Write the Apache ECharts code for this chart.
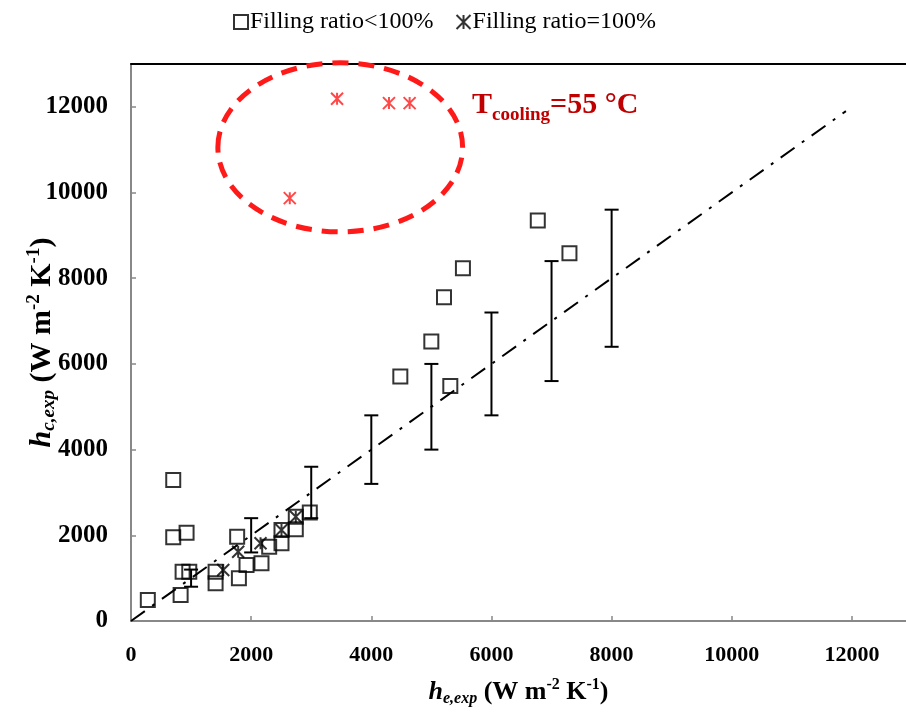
<!DOCTYPE html>
<html>
<head>
<meta charset="utf-8">
<script src="https://cdn.jsdelivr.net/npm/echarts@6/dist/echarts.min.js"></script>
<style>html,body{margin:0;padding:0;background:#fff}#c{width:906px;height:715px}</style>
</head>
<body>
<div id="c"></div>
<script>
// Filling ratio < 100% (hollow squares)
const squareData = [
  [280, 490], [703, 3290], [703, 1954], [925, 2062], [859, 1151], [970, 1151],
  [826, 607], [1408, 1151], [1408, 880], [1767, 1968], [1796, 997], [1923, 1307],
  [2172, 1347], [2300, 1735], [2505, 1813], [2505, 2125], [2743, 2141], [2743, 2435],
  [2976, 2530], [4483, 5705], [4999, 6522], [5315, 5487], [5210, 7558], [5525, 8235],
  [6771, 9347], [7298, 8585]
];
// Filling ratio = 100% (star / x markers)
const fullData = [
  [1535, 1190], [1784, 1618], [2156, 1813], [2505, 2125], [2743, 2435]
];
// T_cooling = 55 °C points (red)
const coolData = [
  [3430, 12188], [4294, 12087], [4638, 12087], [2643, 9869]
];
// Error bars on the y = x line (±20%)
const errX = [1000, 2000, 3000, 4000, 5000, 6000, 7000, 8000];
const errLow = [800, 1600, 2400, 3200, 4000, 4800, 5600, 6400];
const errHigh = [1200, 2400, 3600, 4800, 6000, 7200, 8400, 9600];
// Reference line y = x
const refLine = [[0, 0], [11900, 11900]];
// Ellipse around the red points: [cx, cy, rx, ry]
const ellipseData = [[3483, 11055, 2037, 1973]];

const xTicks = [0, 2000, 4000, 6000, 8000, 10000, 12000];
const yTicks = [0, 2000, 4000, 6000, 8000, 10000, 12000];

const FONT = 'Liberation Serif';
const starPath = 'path://M0,0L10,10M10,0L0,10M5,0L5,10';

const chart = echarts.init(document.getElementById('c'));
function nameRich(big, small) {
  return {
    i: { fontFamily: FONT, fontWeight: 'bold', fontStyle: 'italic', fontSize: big, color: '#000', verticalAlign: 'middle' },
    sub: { fontFamily: FONT, fontWeight: 'bold', fontStyle: 'italic', fontSize: small, color: '#000', verticalAlign: 'bottom' },
    n: { fontFamily: FONT, fontWeight: 'bold', fontSize: big, color: '#000', verticalAlign: 'middle' },
    sup: { fontFamily: FONT, fontWeight: 'bold', fontSize: small, color: '#000', verticalAlign: 'top' }
  };
}

chart.setOption({
  animation: false,
  backgroundColor: '#fff',
  legend: {
    top: 5,
    left: 228,
    data: ['Filling ratio<100%', 'Filling ratio=100%'],
    itemWidth: 14,
    itemHeight: 14,
    itemGap: 22,
    textStyle: { fontFamily: FONT, fontSize: 24, color: '#000', padding: [0, 0, 0, -3] }
  },
  grid: { left: 131, right: 0, top: 64, bottom: 94 },
  xAxis: [{
    type: 'value', min: 0, max: 12900, interval: 2000,
    name: '{i|h}{sub|e,exp}{n| (W m}{sup|-2}{n| K}{sup|-1}{n|)}',
    nameLocation: 'middle', nameGap: 56, nameMoveOverlap: false,
    nameTextStyle: { rich: nameRich(26, 16), lineHeight: 30 },
    axisLine: { lineStyle: { color: '#888', width: 2 } },
    axisTick: { inside: true, length: 5, lineStyle: { color: '#888', width: 1.5 } },
    axisLabel: {
      showMaxLabel: false, margin: 23,
      fontFamily: FONT, fontWeight: 'bold', fontSize: 22, color: '#000',
      formatter: v => xTicks.includes(v) ? String(v) : ''
    },
    splitLine: { show: false }
  }, {
    type: 'value', min: 0, max: 12900, position: 'top',
    axisLine: { show: true, onZero: false, lineStyle: { color: '#000', width: 2 } },
    axisTick: { show: false }, axisLabel: { show: false }, splitLine: { show: false }
  }],
  yAxis: {
    type: 'value', min: 0, max: 13000, interval: 2000,
    name: '{i|h}{sub|c,exp}{n| (W m}{sup|-2}{n| K}{sup|-1}{n|)}',
    nameLocation: 'middle', nameGap: 72, nameRotate: 90, nameMoveOverlap: false,
    nameTextStyle: { rich: nameRich(30, 19), lineHeight: 34 },
    axisLine: { show: true, lineStyle: { color: '#888', width: 2 } },
    axisTick: { show: true, inside: true, length: 5, lineStyle: { color: '#888', width: 1.5 } },
    axisLabel: {
      showMaxLabel: false, margin: 23,
      fontFamily: FONT, fontWeight: 'bold', fontSize: 25, color: '#000',
      formatter: v => yTicks.includes(v) ? String(v) : ''
    },
    splitLine: { show: false }
  },
  graphic: [{
    type: 'text', left: 472, top: 85,
    style: {
      text: '{a|T}{b|cooling}{a|=55 °C}',
      rich: {
        a: { fontFamily: FONT, fontWeight: 'bold', fontSize: 30, fill: '#C00000', verticalAlign: 'middle' },
        b: { fontFamily: FONT, fontWeight: 'bold', fontSize: 19, fill: '#C00000', verticalAlign: 'bottom' }
      },
      lineHeight: 40
    }
  }],
  series: [
    {
      name: 'ref', type: 'line', data: refLine, symbol: 'none', silent: true,
      lineStyle: { color: '#000', width: 2, type: [17, 9, 3, 9] }, z: 1
    },
    {
      name: 'err', type: 'custom', silent: true,
      data: errX.map((x, i) => [x, errLow[i], errHigh[i]]),
      renderItem: (params, api) => {
        const x = api.value(0);
        const pHi = api.coord([x, api.value(2)]);
        const pLo = api.coord([x, api.value(1)]);
        const w = 7;
        const st = { stroke: '#000', lineWidth: 2 };
        return {
          type: 'group', children: [
            { type: 'line', shape: { x1: pHi[0], y1: pHi[1], x2: pLo[0], y2: pLo[1] }, style: st },
            { type: 'line', shape: { x1: pHi[0] - w, y1: pHi[1], x2: pHi[0] + w, y2: pHi[1] }, style: st },
            { type: 'line', shape: { x1: pLo[0] - w, y1: pLo[1], x2: pLo[0] + w, y2: pLo[1] }, style: st }
          ]
        };
      }, z: 2
    },
    {
      name: 'ellipse', type: 'custom', silent: true, data: ellipseData,
      renderItem: (params, api) => {
        const c = api.coord([api.value(0), api.value(1)]);
        const rx = api.size([api.value(2), 0])[0];
        const ry = api.size([0, api.value(3)])[1];
        return {
          type: 'ellipse',
          shape: { cx: c[0], cy: c[1], rx: rx, ry: ry },
          style: { fill: 'none', stroke: '#FF1A1A', lineWidth: 5, lineDash: [16, 10] }
        };
      }, z: 3
    },
    {
      name: 'Filling ratio<100%', type: 'scatter', data: squareData,
      symbol: 'rect', symbolSize: 14,
      itemStyle: { color: 'rgba(0,0,0,0)', borderColor: '#000', borderWidth: 2 }, z: 5
    },
    {
      name: 'Filling ratio=100%', type: 'scatter', data: fullData,
      symbol: starPath, symbolSize: 12,
      itemStyle: { color: 'rgba(0,0,0,0)', borderColor: '#000', borderWidth: 2 }, z: 6
    },
    {
      name: 'cool', type: 'scatter', data: coolData,
      symbol: starPath, symbolSize: 12,
      itemStyle: { color: 'rgba(0,0,0,0)', borderColor: '#FF1A1A', borderWidth: 2 }, z: 6
    }
  ]
});
</script>
</body>
</html>
